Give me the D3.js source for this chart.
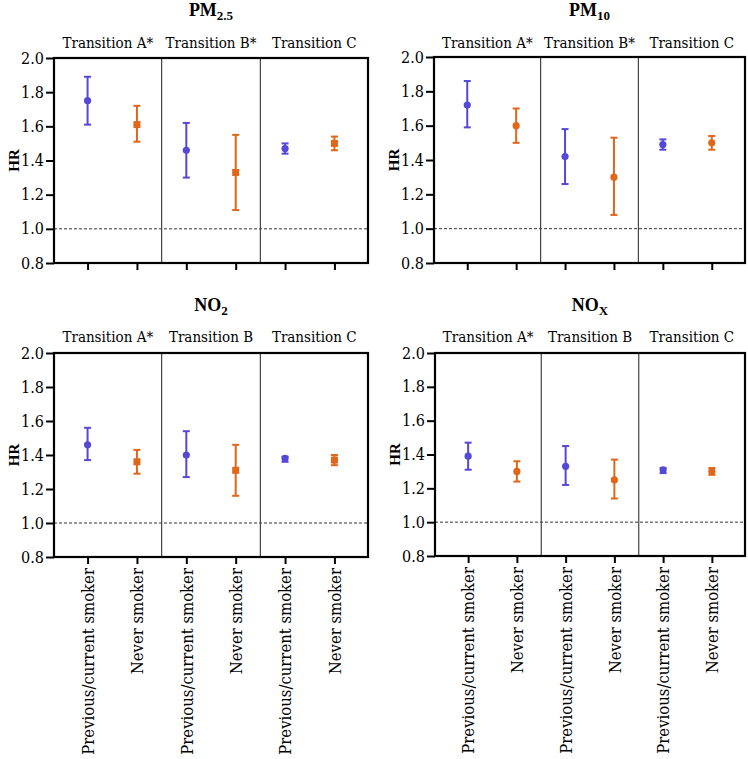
<!DOCTYPE html>
<html><head><meta charset="utf-8">
<script src="https://cdn.jsdelivr.net/npm/d3@7"></script>
<style>body{margin:0;background:#fff}svg{display:block}</style>
</head><body><svg id="c" width="748" height="759"></svg>
<script>
const categories = ["Previous/current smoker","Never smoker"];
const yTicks = [0.8,1.0,1.2,1.4,1.6,1.8,2.0];
const pm25Groups = ["Transition A*","Transition B*","Transition C"];
const pm10Groups = ["Transition A*","Transition B*","Transition C"];
const no2Groups = ["Transition A*","Transition B","Transition C"];
const noxGroups = ["Transition A*","Transition B","Transition C"];
// [HR, lower, upper] per group: prev/current, never
const pm25Prev = [[1.75,1.61,1.89],[1.46,1.30,1.62],[1.47,1.44,1.50]];
const pm25Never = [[1.61,1.51,1.72],[1.33,1.11,1.55],[1.50,1.46,1.54]];
const pm10Prev = [[1.72,1.59,1.86],[1.42,1.26,1.58],[1.49,1.46,1.52]];
const pm10Never = [[1.60,1.50,1.70],[1.30,1.08,1.53],[1.50,1.46,1.54]];
const no2Prev = [[1.46,1.37,1.56],[1.40,1.27,1.54],[1.38,1.36,1.39]];
const no2Never = [[1.36,1.29,1.43],[1.31,1.16,1.46],[1.37,1.34,1.40]];
const noxPrev = [[1.39,1.31,1.47],[1.33,1.22,1.45],[1.31,1.29,1.32]];
const noxNever = [[1.30,1.24,1.36],[1.25,1.14,1.37],[1.30,1.28,1.32]];

const FONT = '"DejaVu Serif", serif';
const BFONT = '"Liberation Serif", "Times New Roman", serif';
const colors = {prev:"#5548d6", never:"#e0661a"};
const svg = d3.select("#c");

const panels = [
 {title:"PM", sub:"2.5", groups:pm25Groups, prev:pm25Prev, never:pm25Never, neverShape:"square", x0:54, x1:368, y0:58, y1:263, ty:16, gy:48, labels:false},
 {title:"PM", sub:"10", groups:pm10Groups, prev:pm10Prev, never:pm10Never, neverShape:"circle", x0:434, x1:745, y0:57, y1:263, ty:16, gy:48, labels:false},
 {title:"NO", sub:"2", groups:no2Groups, prev:no2Prev, never:no2Never, neverShape:"square", x0:54, x1:368, y0:353, y1:557, ty:311, gy:342, labels:true},
 {title:"NO", sub:"X", groups:noxGroups, prev:noxPrev, never:noxNever, neverShape:"circle", x0:435, x1:745, y0:353, y1:556, ty:311, gy:342, labels:true}
];

function reg(sel, size){
  sel.style("font-family",FONT).style("font-stretch","condensed").style("font-size",size+"px");
}

panels.forEach(p => {
  const g = svg.append("g");
  const keys = [];
  p.groups.forEach((gr,i)=>categories.forEach((c,j)=>keys.push(i+"-"+j)));
  const x = d3.scalePoint().domain(keys).range([p.x0,p.x1]).padding(0.68);
  const y = d3.scaleLinear().domain([0.8,2.0]).range([p.y1,p.y0]);
  const step = x.step();

  g.append("line").attr("x1",p.x0).attr("x2",p.x1).attr("y1",y(1.0)).attr("y2",y(1.0))
    .attr("stroke","#333").attr("stroke-width",1).attr("stroke-dasharray","3,2");

  [1,2].forEach(i=>{
    const xd = x(i+"-0") - step/2;
    g.append("line").attr("x1",xd).attr("x2",xd).attr("y1",p.y0).attr("y2",p.y1)
      .attr("stroke","#444").attr("stroke-width",1.2);
  });
  p.groups.forEach((gr,i)=>{
    const a = i===0 ? p.x0 : x(i+"-0")-step/2;
    const b = i===2 ? p.x1 : x((i+1)+"-0")-step/2;
    g.append("text").attr("x",(a+b)/2).attr("y",p.gy).attr("text-anchor","middle")
      .call(reg,15).text(gr);
  });

  const rows = [];
  p.groups.forEach((gr,i)=>{
    rows.push({k:i+"-0", v:p.prev[i], c:colors.prev, shape:"circle"});
    rows.push({k:i+"-1", v:p.never[i], c:colors.never, shape:p.neverShape});
  });
  rows.forEach(r=>{
    const cx = x(r.k);
    g.append("line").attr("x1",cx).attr("x2",cx).attr("y1",y(r.v[1])).attr("y2",y(r.v[2]))
      .attr("stroke",r.c).attr("stroke-width",2);
    [r.v[1],r.v[2]].forEach(v=>g.append("line").attr("x1",cx-3.5).attr("x2",cx+3.5)
      .attr("y1",y(v)).attr("y2",y(v)).attr("stroke",r.c).attr("stroke-width",2));
    if (r.shape==="circle") g.append("circle").attr("cx",cx).attr("cy",y(r.v[0])).attr("r",3.6).attr("fill",r.c);
    else g.append("rect").attr("x",cx-3.5).attr("y",y(r.v[0])-3.5).attr("width",7).attr("height",7).attr("fill",r.c);
  });

  const yAxis = d3.axisLeft(y).tickValues(yTicks).tickFormat(d3.format(".1f")).tickSize(8).tickPadding(2);
  const ya = g.append("g").attr("transform",`translate(${p.x0},0)`).call(yAxis);
  ya.select(".domain").remove();
  ya.selectAll(".tick line").attr("stroke","#000").attr("stroke-width",2);
  ya.selectAll("text").call(reg,16).attr("fill","#000");

  const xAxis = d3.axisBottom(x).tickSize(7).tickPadding(3)
    .tickFormat(k=>p.labels ? categories[+k.split("-")[1]] : "");
  const xa = g.append("g").attr("transform",`translate(0,${p.y1})`).call(xAxis);
  xa.select(".domain").remove();
  xa.selectAll(".tick line").attr("stroke","#000").attr("stroke-width",2);
  xa.selectAll("text").call(reg,16.5).attr("fill","#000")
    .attr("text-anchor","end").attr("transform","rotate(-90)")
    .attr("x",-11).attr("y",0).attr("dy","0.35em");

  g.append("rect").attr("x",p.x0).attr("y",p.y0).attr("width",p.x1-p.x0).attr("height",p.y1-p.y0)
    .attr("fill","none").attr("stroke","#000").attr("stroke-width",2.2);

  const t = g.append("text").attr("x",(p.x0+p.x1)/2).attr("y",p.ty).attr("text-anchor","middle")
    .style("font-family",BFONT).style("font-size","18px").style("font-weight","bold");
  t.append("tspan").text(p.title);
  t.append("tspan").attr("dy",4).style("font-size","13px").text(p.sub);

  g.append("text").attr("transform",`translate(${p.x0-40},${(p.y0+p.y1)/2}) rotate(-90)`)
    .attr("text-anchor","middle").attr("dy","0.35em")
    .style("font-family",BFONT).style("font-size","15px").style("font-weight","bold").text("HR");
});
</script></body></html>
